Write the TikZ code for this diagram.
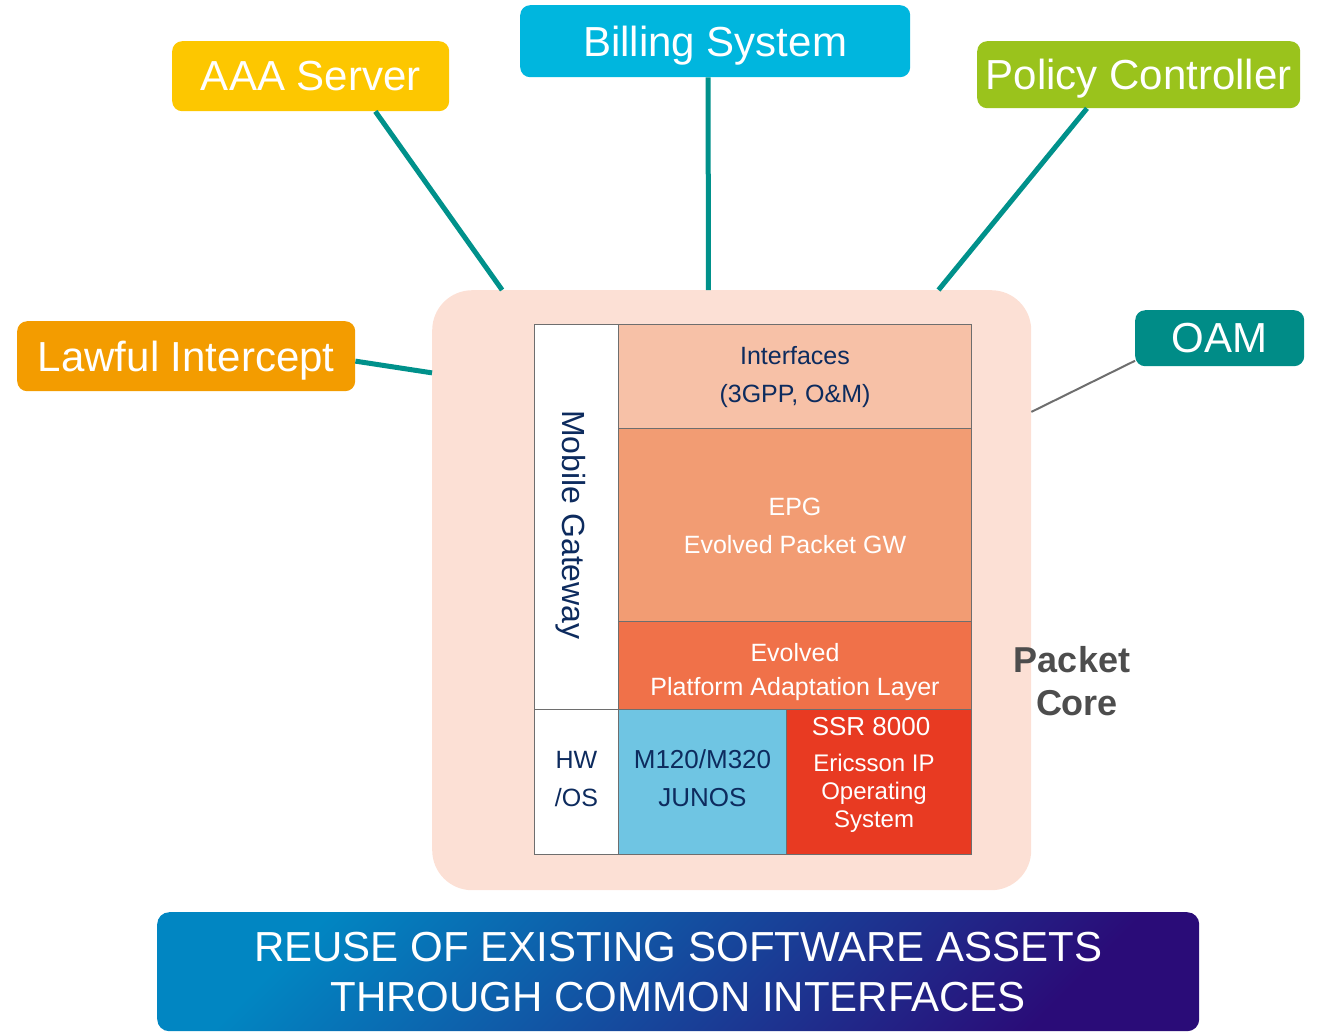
\documentclass[tikz,border=0pt]{standalone}
\usepackage{fontspec}
\setmainfont{Liberation Sans}
\usetikzlibrary{calc}
\definecolor{aaacol}{HTML}{FDC700}
\definecolor{billcol}{HTML}{00B6DE}
\definecolor{polcol}{HTML}{9AC31C}
\definecolor{lawcol}{HTML}{F39C00}
\definecolor{oamcol}{HTML}{008C87}
\definecolor{linkcol}{HTML}{00918B}
\definecolor{corebg}{HTML}{FCE0D5}
\definecolor{ifcol}{HTML}{F7C1A7}
\definecolor{epgcol}{HTML}{F29C73}
\definecolor{palcol}{HTML}{F07149}
\definecolor{mcol}{HTML}{6FC5E3}
\definecolor{ssrcol}{HTML}{E83A22}
\definecolor{darktxt}{HTML}{0D2B5E}
\definecolor{pctxt}{HTML}{4D4D4D}
\definecolor{gridcol}{HTML}{6E6E6E}
\definecolor{banA}{HTML}{0186C2}
\definecolor{banB}{HTML}{2A0C78}
\tikzset{
  extbox/.style={rectangle, rounded corners=10pt, anchor=north west, inner sep=0pt,
    text=white, text depth=0pt, font=\fontsize{42}{48}\selectfont},
  link/.style={draw=linkcol, line width=5pt},
  cell/.style={rectangle, draw=gridcol, line width=1pt, anchor=north west, inner sep=0pt},
  celltext/.style={align=center, inner sep=0pt, font=\fontsize{25}{38}\selectfont},
}
\begin{document}
\begin{tikzpicture}[x=1pt,y=-1pt]
\useasboundingbox (0,0) rectangle (1319,1034);
% external systems
\node[extbox, fill=aaacol, minimum width=277pt, minimum height=70pt] (aaa) at (172,41) {AAA Server};
\node[extbox, fill=billcol, minimum width=390pt, minimum height=72pt] (bill) at (520,5) {Billing System};
\node[extbox, fill=polcol, minimum width=323pt, minimum height=67pt] (pol) at (977,41) {Policy Controller};
\node[extbox, fill=lawcol, minimum width=338pt, minimum height=70pt] (law) at (17,321) {Lawful Intercept};
\node[extbox, fill=oamcol, minimum width=169pt, minimum height=56pt] (oam) at (1135,310) {OAM};
% packet core background
\node[rectangle, rounded corners=40pt, fill=corebg, anchor=north west, minimum width=599pt, minimum height=600pt, inner sep=0pt] (core) at (432,290) {};
% links
\draw[link] ($(aaa.south west)!0.733!(aaa.south east)$) -- ($(core.north west)!0.117!(core.north east)$);
\draw[link] ($(bill.south west)!0.482!(bill.south east)$) -- ($(core.north west)!0.461!(core.north east)$);
\draw[link] ($(pol.south west)!0.34!(pol.south east)$) -- ($(core.north west)!0.845!(core.north east)$);
\draw[link] ($(law.north east)!0.57!(law.south east)$) -- ($(core.north west)!0.138!(core.south west)$);
\draw[draw=gridcol, line width=2pt] ($(oam.north west)!0.9!(oam.south west)$) -- ($(core.north east)!0.203!(core.south east)$);
% inner stack
\node[cell, fill=white, minimum width=84pt, minimum height=385pt] (mg) at (534,324) {};
\node[rotate=-90, text=darktxt, font=\fontsize{32}{38}\selectfont] (mgt) at (571,525) {Mobile Gateway};
\node[cell, fill=ifcol, minimum width=353pt, minimum height=104pt] (ifc) at (618,324) {};
\node[celltext, text=darktxt] (ifct) at ([yshift=-1pt]ifc.center) {Interfaces\\(3GPP, O\&M)};
\node[cell, fill=epgcol, minimum width=353pt, minimum height=193pt] (epg) at (618,428) {};
\node[celltext, text=white] (epgt) at ([yshift=-1pt]epg.center) {EPG\\Evolved Packet GW};
\node[cell, fill=palcol, minimum width=353pt, minimum height=88pt] (pal) at (618,621) {};
\node[celltext, text=white, font=\fontsize{25}{34}\selectfont] (palt) at ([yshift=-7pt]pal.center) {Evolved\\Platform Adaptation Layer};
\node[cell, fill=white, minimum width=84pt, minimum height=145pt] (hw) at (534,709) {};
\node[celltext, text=darktxt] (hwt) at ([yshift=3pt]hw.center) {HW\\/OS};
\node[cell, fill=mcol, minimum width=168pt, minimum height=145pt] (mx) at (618,709) {};
\node[celltext, text=darktxt, font=\fontsize{26}{38}\selectfont] (mxt) at ([yshift=4pt]mx.center) {M120/M320\\JUNOS};
\node[cell, fill=ssrcol, minimum width=185pt, minimum height=145pt] (ssr) at (786,709) {};
\node[text=white, font=\fontsize{26}{30}\selectfont] (ssrt) at (871,727) {SSR 8000};
\node[text=white, align=center, font=\fontsize{24}{28}\selectfont] (ssrd) at (874,793) {Ericsson IP\\Operating\\System};
% packet core label
\node[text=pctxt, font=\bfseries\fontsize{36}{43}\selectfont, align=center] (pc) at (1072,681) {Packet\\\ Core};
% banner
\node[rectangle, rounded corners=12pt, anchor=north west, minimum width=1042pt, minimum height=119pt, inner sep=0pt,
  top color=banA, bottom color=banB, shading angle=45, text=white, align=center,
  font=\fontsize{42}{50}\selectfont] (ban) at (157,912) {REUSE OF EXISTING SOFTWARE ASSETS\\THROUGH COMMON INTERFACES};
\end{tikzpicture}
\end{document}
